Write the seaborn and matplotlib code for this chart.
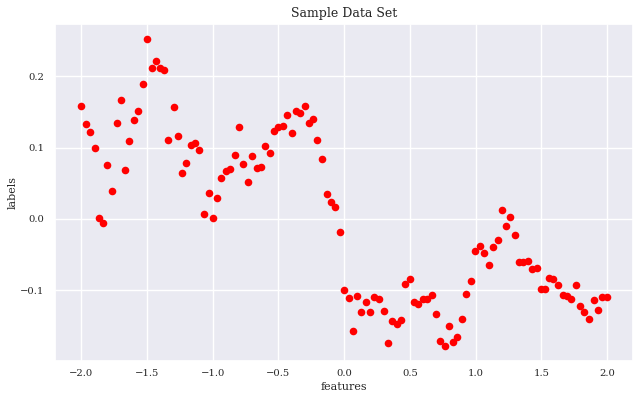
import numpy as np
import matplotlib
matplotlib.use('Agg')
import matplotlib.pyplot as plt
import pandas as pd
import seaborn as sns

features = [-2.0, -1.967, -1.936, -1.895, -1.865, -1.834, -1.802, -1.764, -1.731, -1.701,
            -1.667, -1.637, -1.597, -1.566, -1.534, -1.503, -1.462, -1.432, -1.402, -1.369,
            -1.339, -1.298, -1.268, -1.235, -1.204, -1.169, -1.134, -1.101, -1.068, -1.030,
            -0.999, -0.967, -0.936, -0.902, -0.868, -0.832, -0.802, -0.771, -0.731, -0.701,
            -0.667, -0.633, -0.602, -0.564, -0.534, -0.500, -0.468, -0.433, -0.397, -0.367,
            -0.336, -0.296, -0.266, -0.235, -0.205, -0.172, -0.134, -0.101, -0.068, -0.035,
            0.000, 0.036, 0.064, 0.096, 0.127, 0.167, 0.197, 0.228, 0.263, 0.301,
            0.332, 0.364, 0.398, 0.433, 0.466, 0.497, 0.529, 0.565, 0.600, 0.633,
            0.666, 0.696, 0.732, 0.765, 0.797, 0.828, 0.861, 0.899, 0.929, 0.962,
            0.992, 1.030, 1.065, 1.099, 1.129, 1.169, 1.200, 1.233, 1.263, 1.296,
            1.329, 1.359, 1.395, 1.431, 1.468, 1.499, 1.526, 1.560, 1.592, 1.630,
            1.663, 1.693, 1.727, 1.765, 1.797, 1.828, 1.860, 1.898, 1.932, 1.962, 1.997]

labels = [0.158, 0.133, 0.122, 0.100, 0.001, -0.006, 0.075, 0.039, 0.135, 0.167,
          0.068, 0.109, 0.139, 0.151, 0.189, 0.252, 0.212, 0.222, 0.212, 0.209,
          0.110, 0.157, 0.116, 0.065, 0.079, 0.103, 0.106, 0.096, 0.007, 0.036,
          0.001, 0.029, 0.057, 0.067, 0.070, 0.090, 0.129, 0.077, 0.052, 0.088,
          0.071, 0.073, 0.102, 0.093, 0.123, 0.129, 0.131, 0.146, 0.121, 0.152,
          0.148, 0.158, 0.135, 0.140, 0.110, 0.084, 0.035, 0.023, 0.016, -0.019,
          -0.100, -0.111, -0.157, -0.108, -0.131, -0.116, -0.131, -0.109, -0.112, -0.129,
          -0.174, -0.144, -0.147, -0.142, -0.092, -0.085, -0.117, -0.119, -0.113, -0.113,
          -0.107, -0.133, -0.172, -0.178, -0.150, -0.173, -0.166, -0.141, -0.106, -0.087,
          -0.045, -0.038, -0.048, -0.065, -0.039, -0.029, 0.013, -0.010, 0.003, -0.022,
          -0.061, -0.061, -0.059, -0.070, -0.069, -0.099, -0.098, -0.083, -0.085, -0.093,
          -0.107, -0.108, -0.113, -0.093, -0.122, -0.131, -0.140, -0.114, -0.128, -0.109, -0.109]

df = pd.DataFrame({'features': features, 'labels': labels})

sns.set_theme(style='darkgrid', font='serif')
plt.rcParams['font.family'] = ['DejaVu Serif']

fig, ax = plt.subplots(figsize=(6.4, 4), dpi=100)
fig.subplots_adjust(left=0.086, right=0.989, top=0.94, bottom=0.0975)

sns.scatterplot(x='features', y='labels', data=df, color='red', s=30, linewidth=0, ax=ax)

ax.set_title('Sample Data Set', fontsize=9, pad=5)
ax.set_xlabel('features', fontsize=8, labelpad=3)
ax.set_ylabel('labels', fontsize=8, labelpad=2)
ax.tick_params(axis='x', labelsize=7.2, length=0, pad=5.5)
ax.tick_params(axis='y', labelsize=7.2, length=0, pad=7.5)
ax.set_xticks([-2.0, -1.5, -1.0, -0.5, 0.0, 0.5, 1.0, 1.5, 2.0])
ax.set_yticks([-0.1, 0.0, 0.1, 0.2])

fig.savefig('out.png', dpi=100)
